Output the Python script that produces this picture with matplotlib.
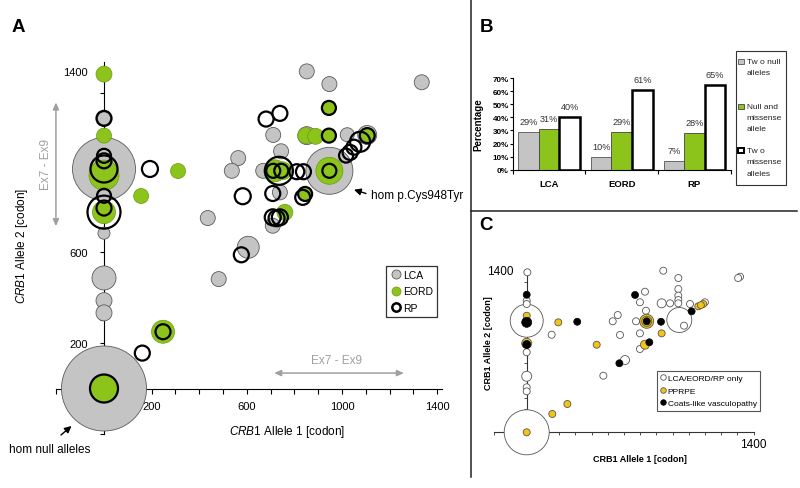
import matplotlib
matplotlib.use('Agg')
import matplotlib.pyplot as plt
from matplotlib.lines import Line2D
from matplotlib.patches import Rectangle
import numpy as np

plt.rcParams['font.family'] = ['Liberation Sans', 'DejaVu Sans']
plt.rcParams['mathtext.fontset'] = 'custom'
plt.rcParams['mathtext.it'] = 'Liberation Sans:italic'
plt.rcParams['mathtext.rm'] = 'Liberation Sans'

# ---------------- DATA ----------------
# Panel A: (allele1 codon, allele2 codon, bubble diameter)
lca_x = [0, 0, 947, 0, 0, 0, 0, 0, 0, 852, 947, 1335, 711, 852, 1022, 1106, 564, 537, 669, 744, 739, 709, 436, 606, 482]
lca_y = [0, 967, 959, 1190, 848, 684, 487, 387, 333, 1397, 1341, 1349, 1117, 1114, 1118, 1117, 1015, 959, 959, 1045, 864, 717, 751, 622, 482]
lca_d = [85, 63, 47, 13, 13, 12, 24, 16, 16, 15, 15, 15, 15, 18, 14, 19, 15, 15, 15, 15, 15, 15, 15, 22, 15]

eord_x = [0, 0, 0, 0, 0, 156, 311, 248, 947, 945, 848, 889, 945, 1106, 718, 750, 845, 760]
eord_y = [0, 1385, 1114, 940, 777, 848, 958, 250, 959, 1236, 1114, 1111, 1114, 1117, 959, 959, 857, 776]
eord_d = [28, 16, 15, 30, 23, 15, 15, 23, 27, 13, 16, 16, 13, 13, 22, 18, 13, 16]

rp_x = [0, 0, 0, 0, 0, 193, 0, 0, 0, 161, 248, 577, 583, 709, 725, 739, 709, 681, 739, 945, 945, 1106, 1076, 1050, 1034, 1017, 947, 838, 810, 845, 835, 735, 711, 745]
rp_y = [0, 1190, 1025, 1003, 967, 967, 849, 795, 777, 156, 250, 589, 847, 754, 750, 754, 859, 1187, 1212, 1236, 1114, 1114, 1087, 1063, 1040, 1026, 959, 955, 955, 857, 842, 959, 959, 959]
rp_d = [28, 15, 14, 15, 27, 16, 14, 15, 33, 15, 15, 15, 16, 16, 16, 16, 15, 15, 15, 14, 14, 15, 20, 15, 15, 14, 14, 15, 15, 14, 15, 28, 14, 14]

exon_range = [715, 1260]  # Ex7 - Ex9

# Panel B
groups = ['LCA', 'EORD', 'RP']
two_null = [29, 10, 7]
null_missense = [31, 29, 28]
two_missense = [40, 61, 65]

# Panel C
only_x = [0, 0, 942, 4, 0, 0, 0, 0, 0, 0, 154, 843, 936, 1317, 1305, 936, 936, 936, 936, 730, 699, 833, 885, 1008, 1100, 971, 675, 736, 699, 699, 562, 531, 576, 607, 473]
only_y = [0, 962, 968, 1379, 1134, 1106, 690, 483, 388, 353, 841, 1393, 1330, 1341, 1330, 1235, 1178, 1140, 1112, 1212, 1121, 1112, 1112, 1106, 1121, 919, 957, 1048, 853, 718, 1011, 957, 839, 623, 488]
only_d = [45, 33, 25, 7, 7, 7, 7, 10, 7, 7, 7, 7, 7, 7, 7, 7, 7, 7, 7, 7, 7, 9, 7, 7, 7, 7, 7, 7, 7, 7, 7, 7, 7, 9, 7]

pprpe_x = [0, 0, 0, 195, 432, 251, 158, 741, 741, 833, 730, 1059, 1090, 1075]
pprpe_y = [0, 1005, 767, 948, 755, 244, 158, 957, 957, 853, 755, 1086, 1106, 1096]
pprpe_d = [7, 7, 10, 7, 7, 7, 7, 14, 10, 7, 9, 7, 7, 7]

coats_x = [0, 0, 0, 312, 669, 741, 829, 1018, 757, 572]
coats_y = [1186, 948, 757, 953, 1184, 957, 953, 1043, 776, 595]
coats_d = [7, 10, 8, 7, 7, 7, 7, 7, 7, 7]

# ---------------- STYLE ----------------
GRAY = '#c4c4c4'
GRAY_E = '#5a5a5a'
GREEN = '#8cc41c'
GREEN_E = '#6a9a12'
YELLOW = '#f3c414'

W, H = 800, 489
fig = plt.figure(figsize=(8, 4.89), dpi=100)


def rect(x0, y0, x1, y1):
    return [x0 / W, 1 - y1 / H, (x1 - x0) / W, (y1 - y0) / H]


def ftext(x, y, s, **kw):
    fig.text(x / W, 1 - y / H, s, **kw)


def sz(d):
    return (0.72 * np.asarray(d, dtype=float)) ** 2


# ---------------- PANEL A ----------------
axA = fig.add_axes(rect(10, 40, 465, 480))
sxA, syA, oxA, oyA = 0.238, 0.227, 104, 389.5
axA.set_xlim((10 - oxA) / sxA, (465 - oxA) / sxA)
axA.set_ylim((oyA - 480) / syA, (oyA - 40) / syA)
axA.set_axisbelow(True)
axA.patch.set_visible(False)
for s in ['top', 'right']:
    axA.spines[s].set_visible(False)
axA.spines['left'].set_position(('data', 0))
axA.spines['bottom'].set_position(('data', 0))
axA.spines['bottom'].set_bounds(-200, 1420)
axA.spines['left'].set_bounds(-200, 1440)
for s in ['left', 'bottom']:
    axA.spines[s].set_linewidth(0.8)
    axA.spines[s].set_zorder(0.5)
axA.set_xticks([200, 600, 1000, 1400])
axA.set_xticks(np.arange(-200, 1401, 100), minor=True)
axA.set_yticks([200, 600, 1000, 1400])
axA.set_yticklabels(['200', '600', '', '1400'])
axA.set_yticks(np.arange(-200, 1401, 100), minor=True)
axA.tick_params(axis='x', which='both', direction='out', length=3.5, width=0.8, labelsize=8, pad=5.5)
axA.tick_params(axis='y', which='both', direction='out', length=3, width=0.8, labelsize=8, pad=8.5)

axA.scatter(lca_x, lca_y, s=sz(lca_d), c=GRAY, edgecolors=GRAY_E, linewidths=0.6, zorder=3, clip_on=False)
axA.scatter(eord_x, eord_y, s=sz(eord_d), c=GREEN, edgecolors=GREEN_E, linewidths=0.5, zorder=4, clip_on=False)
axA.scatter(rp_x, rp_y, s=sz(rp_d), facecolors='none', edgecolors='black', linewidths=1.6, zorder=5, clip_on=False)

# Exon range arrows
arrow_gray = dict(arrowstyle='<|-|>,head_length=0.4,head_width=0.18', color='#a0a0a0', lw=1.1,
                  shrinkA=0, shrinkB=0, mutation_scale=10)
axA.annotate('', xy=(exon_range[0], 68), xytext=(exon_range[1], 68), arrowprops=arrow_gray, zorder=2)
axA.annotate('', xy=(-202, exon_range[0]), xytext=(-202, exon_range[1]), arrowprops=arrow_gray, zorder=2)
axA.text(978, 127, 'Ex7 - Ex9', color='#a0a0a0', fontsize=8.5, ha='center', va='center')
axA.text(-245, 993, 'Ex7 - Ex9', color='#a0a0a0', fontsize=8.5, ha='center', va='center', rotation=90)

arrow_blk = dict(arrowstyle='-|>,head_length=0.5,head_width=0.25', color='black', lw=1.0,
                 shrinkA=0, shrinkB=0, mutation_scale=8)
axA.annotate('', xy=(354, H - 190.7), xytext=(366, H - 194.5), xycoords='figure pixels',
             textcoords='figure pixels', arrowprops=arrow_blk)
ftext(371, 196, 'hom p.Cys948Tyr', fontsize=8.5, ha='left', va='center')
axA.annotate('', xy=(71.5, H - 427), xytext=(61, H - 436), xycoords='figure pixels',
             textcoords='figure pixels', arrowprops=arrow_blk)
ftext(9, 450, 'hom null alleles', fontsize=8.5, ha='left', va='center')

ftext(286.7, 432.5, r'$\mathit{CRB1}$ Allele 1 [codon]', fontsize=8.5, ha='center', va='center')
ftext(21.7, 245.5, r'$\mathit{CRB1}$ Allele 2 [codon]', fontsize=8.5, ha='center', va='center', rotation=90)

hA = [Line2D([], [], ls='none', marker='o', markersize=6.5, markerfacecolor=GRAY, markeredgecolor=GRAY_E, markeredgewidth=0.6),
      Line2D([], [], ls='none', marker='o', markersize=6.5, markerfacecolor=GREEN, markeredgecolor=GREEN_E, markeredgewidth=0.5),
      Line2D([], [], ls='none', marker='o', markersize=6, markerfacecolor='white', markeredgecolor='black', markeredgewidth=1.8)]
legA = axA.legend(hA, ['LCA', 'EORD', 'RP'], loc='upper left', bbox_to_anchor=(385.7 / W, 1 - 266.7 / H),
                  bbox_transform=fig.transFigure, borderaxespad=0, fontsize=7.5, frameon=True, fancybox=False,
                  framealpha=1, edgecolor='#333333', borderpad=0.4, handlelength=1.1, handletextpad=0.15,
                  labelspacing=0.62)
legA.get_frame().set_linewidth(0.9)
legA.set_zorder(10)

# ---------------- PANEL B ----------------
axB = fig.add_axes(rect(512.7, 79, 730.7, 170.7))
xb = np.arange(len(groups))
bw = 0.283
b1 = axB.bar(xb - bw, two_null, bw, color=GRAY, edgecolor='#555555', linewidth=0.6)
b2 = axB.bar(xb, null_missense, bw, color=GREEN, edgecolor='#444444', linewidth=0.6)
b3 = axB.bar(xb + bw, two_missense, bw, color='white', edgecolor='black', linewidth=1.8)
for bars, vals in [(b1, two_null), (b2, null_missense), (b3, two_missense)]:
    for r, v in zip(bars, vals):
        axB.annotate(f'{v}%', xy=(r.get_x() + r.get_width() / 2, v), xytext=(0, 7.5),
                     textcoords='offset points', ha='center', va='center', fontsize=6.6, color='#333333')
axB.set_xlim(-0.5, 2.5)
axB.set_ylim(0, 70)
for s in ['top', 'right']:
    axB.spines[s].set_visible(False)
for s in ['left', 'bottom']:
    axB.spines[s].set_linewidth(0.8)
axB.set_yticks(np.arange(0, 71, 10))
axB.set_yticklabels([f'{v}%' for v in range(0, 71, 10)], fontweight='bold')
axB.set_xticks([-0.5, 0.5, 1.5, 2.5])
axB.set_xticklabels([])
axB.set_xticks(xb, minor=True)
axB.set_xticklabels(groups, minor=True, fontweight='bold')
axB.tick_params(axis='y', length=2, width=0.8, labelsize=5.8, pad=0.8)
axB.tick_params(axis='x', which='major', length=3, width=0.8)
axB.tick_params(axis='x', which='minor', length=0, labelsize=6.8, pad=7)
axB.set_ylabel('Percentage', fontsize=7, fontweight='bold')
axB.yaxis.set_label_coords(-0.136, 0.5)

# Legend B (manual box)
fig.add_artist(Rectangle((736 / W, 1 - 186 / H), 50 / W, 134 / H, transform=fig.transFigure,
                         facecolor='white', edgecolor='#333333', linewidth=0.8))
leg_items = [(62.7, GRAY, '#555555', 0.6, ['Tw o null', 'alleles']),
             (107.3, GREEN, '#444444', 0.6, ['Null and', 'missense', 'allele']),
             (151.7, 'white', 'black', 1.4, ['Tw o', 'missense', 'alleles'])]
for yy, fc, ec, lw, lines in leg_items:
    fig.add_artist(Rectangle(((741 - 2.7) / W, 1 - (yy + 2.7) / H), 5.4 / W, 5.4 / H,
                             transform=fig.transFigure, facecolor=fc, edgecolor=ec, linewidth=lw))
    for k, ln in enumerate(lines):
        ftext(746.7, yy + k * 11.2, ln, fontsize=6.0, ha='left', va='center', color='#222222')

# ---------------- PANEL C ----------------
axC = fig.add_axes(rect(480, 250, 790, 480))
sxC, syC, oxC, oyC = 0.162, 0.116, 526.7, 433.3
axC.set_xlim((480 - oxC) / sxC, (790 - oxC) / sxC)
axC.set_ylim((oyC - 480) / syC, (oyC - 250) / syC)
axC.set_axisbelow(True)
axC.patch.set_visible(False)
for s in ['top', 'right']:
    axC.spines[s].set_visible(False)
axC.spines['left'].set_position(('data', 0))
axC.spines['bottom'].set_position(('data', 0))
axC.spines['bottom'].set_bounds(-200, 1400)
axC.spines['left'].set_bounds(-150, 1400)
for s in ['left', 'bottom']:
    axC.spines[s].set_linewidth(0.8)
    axC.spines[s].set_color('#333333')
axC.set_xticks([1400])
axC.set_xticks(np.arange(-200, 1401, 100), minor=True)
axC.set_yticks([1400])
axC.set_yticks(np.arange(-100, 1401, 100), minor=True)
axC.tick_params(axis='x', which='both', direction='out', length=2.5, width=0.6, labelsize=8.5, pad=1.5, color='#333333')
axC.tick_params(axis='y', which='both', direction='out', length=2, width=0.6, labelsize=8.5, pad=7.5, color='#333333')

axC.scatter(only_x, only_y, s=sz(only_d), c='white', edgecolors='#555555', linewidths=0.6, zorder=3, clip_on=False)
axC.scatter(pprpe_x, pprpe_y, s=sz(pprpe_d), c=YELLOW, edgecolors='#555555', linewidths=0.6, zorder=4, clip_on=False)
axC.scatter(coats_x, coats_y, s=sz(coats_d), c='black', edgecolors='black', linewidths=0.5, zorder=5, clip_on=False)

ftext(640, 459.3, 'CRB1 Allele 1 [codon]', fontsize=6.5, fontweight='bold', ha='center', va='center')
ftext(489, 343, 'CRB1 Allele 2 [codon]', fontsize=6.5, fontweight='bold', ha='center', va='center', rotation=90)

hC = [Line2D([], [], ls='none', marker='o', markersize=4, markerfacecolor='white', markeredgecolor='#555555', markeredgewidth=0.6),
      Line2D([], [], ls='none', marker='o', markersize=4, markerfacecolor=YELLOW, markeredgecolor='#555555', markeredgewidth=0.6),
      Line2D([], [], ls='none', marker='o', markersize=4, markerfacecolor='black', markeredgecolor='black', markeredgewidth=0.5)]
legC = axC.legend(hC, ['LCA/EORD/RP only', 'PPRPE', 'Coats-like vasculopathy'], loc='upper left',
                  bbox_to_anchor=(656.7 / W, 1 - 371.7 / H), bbox_transform=fig.transFigure, borderaxespad=0,
                  fontsize=6, frameon=True, fancybox=False, framealpha=1, edgecolor='#555555', borderpad=0.42,
                  handlelength=0.6, handletextpad=0.3, labelspacing=0.58)
legC.get_frame().set_linewidth(0.8)
legC.set_zorder(10)

# ---------------- PANEL LETTERS & SEPARATORS ----------------
ftext(18, 27, 'A', fontsize=13.5, fontweight='bold', ha='center', va='center')
ftext(486, 27.5, 'B', fontsize=13.5, fontweight='bold', ha='center', va='center')
ftext(486, 226, 'C', fontsize=13.5, fontweight='bold', ha='center', va='center')

fig.add_artist(Line2D([471 / W, 471 / W], [1 - 0 / H, 1 - 478 / H], transform=fig.transFigure,
                      color='#222222', linewidth=1.1))
fig.add_artist(Line2D([471 / W, 797 / W], [1 - 211.5 / H, 1 - 211.5 / H], transform=fig.transFigure,
                      color='#222222', linewidth=1.1))

fig.savefig('out.png', dpi=100)
